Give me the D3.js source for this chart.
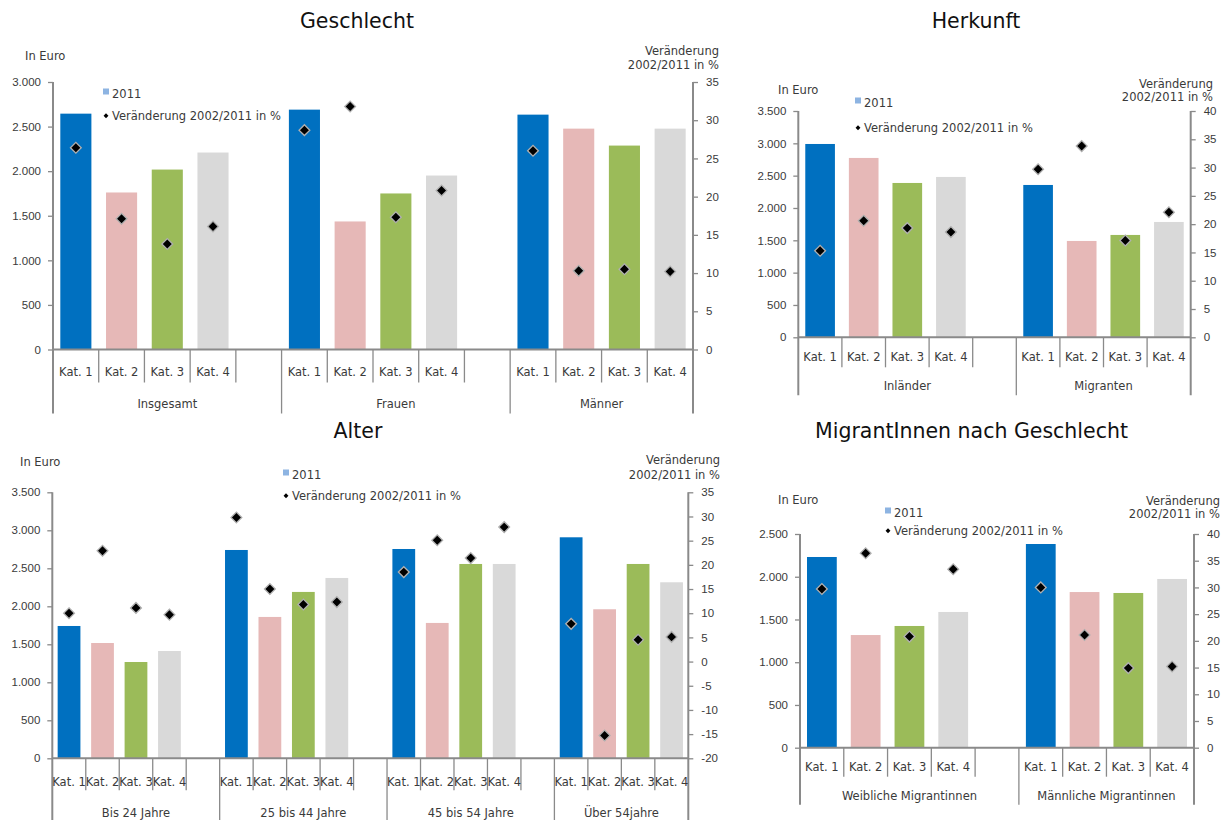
<!DOCTYPE html>
<html lang="de">
<head>
<meta charset="utf-8">
<title>Einkommen nach Geschlecht, Herkunft und Alter</title>
<script src="https://cdn.jsdelivr.net/npm/d3@7/dist/d3.min.js"></script>
<style>
  html, body { margin: 0; padding: 0; background: #ffffff; }
  svg { display: block; font-family: "DejaVu Sans", "Noto Sans", sans-serif; }
  .tick text, .lbl { fill: #3a3a3a; font-size: 11.5px; }
  .title { fill: #111111; font-size: 20.5px; }
</style>
</head>
<body>
<svg id="chart" width="1223" height="820"></svg>
<script>
// ---- Daten ----
const categories = ["Kat. 1", "Kat. 2", "Kat. 3", "Kat. 4"];
const categoryColors = ["#0070C0", "#E6B8B7", "#9BBB59", "#D9D9D9"];

const legendLabels = ["2011", "Veränderung 2002/2011 in %"];
const leftAxisLabel = "In Euro";
const rightAxisLabel = ["Veränderung", "2002/2011 in %"];

// Geschlecht
const geschlechtGroups = ["Insgesamt", "Frauen", "Männer"];
const geschlechtEuro = [
  [2645, 1761, 2018, 2209],
  [2690, 1436, 1750, 1951],
  [2634, 2477, 2287, 2477]
];
const geschlechtPct = [
  [26.4, 17.1, 13.8, 16.1],
  [28.7, 31.8, 17.3, 20.8],
  [26.0, 10.3, 10.5, 10.2]
];

// Herkunft
const herkunftGroups = ["Inländer", "Migranten"];
const herkunftEuro = [
  [2990, 2774, 2387, 2480],
  [2356, 1490, 1583, 1784]
];
const herkunftPct = [
  [15.3, 20.6, 19.3, 18.6],
  [29.7, 33.8, 17.1, 22.1]
];

// Alter
const alterGroups = ["Bis 24 Jahre", "25 bis 44 Jahre", "45 bis 54 Jahre", "Über 54jahre"];
const alterEuro = [
  [1741, 1517, 1267, 1412],
  [2741, 1860, 2189, 2373],
  [2754, 1781, 2557, 2557],
  [2908, 1961, 2557, 2316]
];
const alterPct = [
  [10.0, 22.9, 11.1, 9.7],
  [29.8, 15.0, 11.8, 12.3],
  [18.5, 25.1, 21.4, 27.8],
  [7.8, -15.3, 4.5, 5.1]
];

// MigrantInnen nach Geschlecht
const migrantGroups = ["Weibliche Migrantinnen", "Männliche Migrantinnen"];
const migrantEuro = [
  [2231, 1318, 1424, 1588],
  [2383, 1821, 1810, 1974]
];
const migrantPct = [
  [29.7, 36.4, 20.8, 33.4],
  [30.0, 21.1, 14.9, 15.2]
];

// ---- Darstellung ----
const de = d3.formatLocale({
  decimal: ",", thousands: ".", grouping: [3], currency: ["", " €"], minus: "-"
});
const fmtEuro = de.format(",d");
const fmtPct = de.format("d");

const svg = d3.select("#chart");

const panels = [
  {
    title: "Geschlecht", titleX: 357, titleY: 28,
    groups: geschlechtGroups, euro: geschlechtEuro, pct: geschlechtPct,
    x0: 53, x1: 693, yTop: 82, yBottom: 349.5,
    euroMax: 3000, pctMin: 0, pctMax: 35,
    legendX: 103, legendY1: 98, legendY2: 120,
    euroLabel: [25, 60], pctLabel: [719, 55, 69],
    catDy: 26.5, groupDy: 58, shortLen: 33, longLen: 64
  },
  {
    title: "Herkunft", titleX: 976, titleY: 28,
    groups: herkunftGroups, euro: herkunftEuro, pct: herkunftPct,
    x0: 798.3, x1: 1190.7, yTop: 111, yBottom: 337.3,
    euroMax: 3500, pctMin: 0, pctMax: 40,
    legendX: 855, legendY1: 107, legendY2: 132,
    euroLabel: [778, 94], pctLabel: [1213, 88, 101],
    catDy: 24, groupDy: 53, shortLen: 30, longLen: 58
  },
  {
    title: "Alter", titleX: 358, titleY: 438,
    groups: alterGroups, euro: alterEuro, pct: alterPct,
    x0: 52.3, x1: 688.3, yTop: 492.3, yBottom: 758.3,
    euroMax: 3500, pctMin: -20, pctMax: 35,
    legendX: 283, legendY1: 479, legendY2: 500,
    euroLabel: [20, 466], pctLabel: [720, 464, 479],
    catDy: 27.5, groupDy: 58.5, shortLen: 32, longLen: 64
  },
  {
    title: "MigrantInnen nach Geschlecht", titleX: 971.5, titleY: 438,
    groups: migrantGroups, euro: migrantEuro, pct: migrantPct,
    x0: 800, x1: 1194, yTop: 534, yBottom: 747.7,
    euroMax: 2500, pctMin: 0, pctMax: 40,
    legendX: 885, legendY1: 517, legendY2: 535,
    euroLabel: [778, 504], pctLabel: [1220, 505, 518],
    catDy: 23.5, groupDy: 52.5, shortLen: 29, longLen: 57
  }
];

const axisColor = "#8a8a8a";
const barFrac = 0.68;

function diamond(g, cx, cy, size, halo) {
  g.append("path")
    .attr("d", d3.symbol(d3.symbolSquare, size)())
    .attr("transform", `translate(${cx},${cy}) rotate(45)`)
    .attr("fill", "#000")
    .attr("stroke", halo ? "#b0b0b0" : "none")
    .attr("stroke-width", halo ? 1.3 : 0);
}

function drawPanel(p) {
  const g = svg.append("g");

  // Kategorie-Slots: vier Kategorien je Gruppe, dazwischen ein leerer Slot
  const slots = [];
  p.groups.forEach((grp, gi) => {
    categories.forEach((c, ci) => slots.push({ gi, ci, id: gi + "|" + ci }));
    if (gi < p.groups.length - 1) slots.push({ gi, ci: -1, id: gi + "|gap" });
  });

  const x = d3.scaleBand().domain(slots.map(s => s.id)).range([p.x0, p.x1]);
  const bw = x.bandwidth();
  const yL = d3.scaleLinear().domain([0, p.euroMax]).range([p.yBottom, p.yTop]);
  const yR = d3.scaleLinear().domain([p.pctMin, p.pctMax]).range([p.yBottom, p.yTop]);

  // Titel
  g.append("text").attr("class", "title")
    .attr("x", p.titleX).attr("y", p.titleY)
    .attr("text-anchor", "middle").text(p.title);

  // Achsenbeschriftungen
  g.append("text").attr("class", "lbl")
    .attr("x", p.euroLabel[0]).attr("y", p.euroLabel[1]).text(leftAxisLabel);
  rightAxisLabel.forEach((t, i) => {
    g.append("text").attr("class", "lbl")
      .attr("x", p.pctLabel[0]).attr("y", p.pctLabel[1 + i])
      .attr("text-anchor", "end").text(t);
  });

  // Balken
  const cells = slots.filter(s => s.ci >= 0);
  g.append("g").selectAll("rect").data(cells).join("rect")
    .attr("x", d => x(d.id) + bw * (1 - barFrac) / 2)
    .attr("width", bw * barFrac)
    .attr("y", d => yL(p.euro[d.gi][d.ci]))
    .attr("height", d => yL(0) - yL(p.euro[d.gi][d.ci]))
    .attr("fill", d => categoryColors[d.ci]);

  // Linke Achse
  const leftAxis = d3.axisLeft(yL)
    .tickValues(d3.range(0, p.euroMax + 1, 500))
    .tickFormat(fmtEuro).tickSize(5).tickPadding(7);
  const la = g.append("g").attr("transform", `translate(${p.x0},0)`).call(leftAxis);
  la.select(".domain").remove();
  la.selectAll(".tick line").attr("stroke", axisColor).attr("stroke-width", 1.3);
  la.selectAll(".tick text").attr("font-family", null).attr("font-size", null);

  // Rechte Achse
  const rightAxis = d3.axisRight(yR)
    .tickValues(d3.range(p.pctMin, p.pctMax + 1, 5))
    .tickFormat(fmtPct).tickSize(5).tickPadding(8);
  const ra = g.append("g").attr("transform", `translate(${p.x1},0)`).call(rightAxis);
  ra.select(".domain").remove();
  ra.selectAll(".tick line").attr("stroke", axisColor).attr("stroke-width", 1.3);
  ra.selectAll(".tick text").attr("font-family", null).attr("font-size", null);

  // Achslinien
  const lines = g.append("g").attr("stroke", axisColor).attr("fill", "none");
  lines.append("line").attr("x1", p.x0).attr("x2", p.x0)
    .attr("y1", p.yTop).attr("y2", p.yBottom + p.longLen).attr("stroke-width", 2);
  lines.append("line").attr("x1", p.x1).attr("x2", p.x1)
    .attr("y1", p.yTop).attr("y2", p.yBottom + p.longLen).attr("stroke-width", 2);
  lines.append("line").attr("x1", p.x0).attr("x2", p.x1)
    .attr("y1", p.yBottom).attr("y2", p.yBottom).attr("stroke-width", 2);

  // Trennstriche der Kategorieachse
  const bounds = [];
  slots.forEach((s, i) => {
    if (i === 0) return;
    const isGroupStart = s.gi !== slots[i - 1].gi;
    bounds.push({ x: x(s.id), long: isGroupStart });
  });
  lines.selectAll("line.sep").data(bounds).join("line").attr("class", "sep")
    .attr("x1", d => d.x).attr("x2", d => d.x)
    .attr("y1", p.yBottom)
    .attr("y2", d => p.yBottom + (d.long ? p.longLen : p.shortLen))
    .attr("stroke-width", 1.3);

  // Kategorie- und Gruppenbeschriftungen
  g.append("g").selectAll("text").data(cells).join("text").attr("class", "lbl")
    .attr("x", d => x(d.id) + bw / 2)
    .attr("y", p.yBottom + p.catDy)
    .attr("text-anchor", "middle")
    .text(d => categories[d.ci]);

  p.groups.forEach((grp, gi) => {
    const ids = slots.filter(s => s.gi === gi);
    const gx0 = x(ids[0].id);
    const gx1 = x(ids[ids.length - 1].id) + bw;
    g.append("text").attr("class", "lbl")
      .attr("x", (gx0 + gx1) / 2).attr("y", p.yBottom + p.groupDy)
      .attr("text-anchor", "middle").text(grp);
  });

  // Veränderung in % (rechte Skala)
  const dg = g.append("g");
  cells.forEach(d => diamond(dg, x(d.id) + bw / 2, yR(p.pct[d.gi][d.ci]), 58, true));

  // Legende
  g.append("rect")
    .attr("x", p.legendX).attr("y", p.legendY1 - 9.5)
    .attr("width", 6).attr("height", 6).attr("fill", "#8DB4E2");
  g.append("text").attr("class", "lbl")
    .attr("x", p.legendX + 9).attr("y", p.legendY1).text(legendLabels[0]);
  diamond(g, p.legendX + 3, p.legendY2 - 4.3, 12, false);
  g.append("text").attr("class", "lbl")
    .attr("x", p.legendX + 9).attr("y", p.legendY2).text(legendLabels[1]);
}

panels.forEach(drawPanel);
</script>
</body>
</html>
